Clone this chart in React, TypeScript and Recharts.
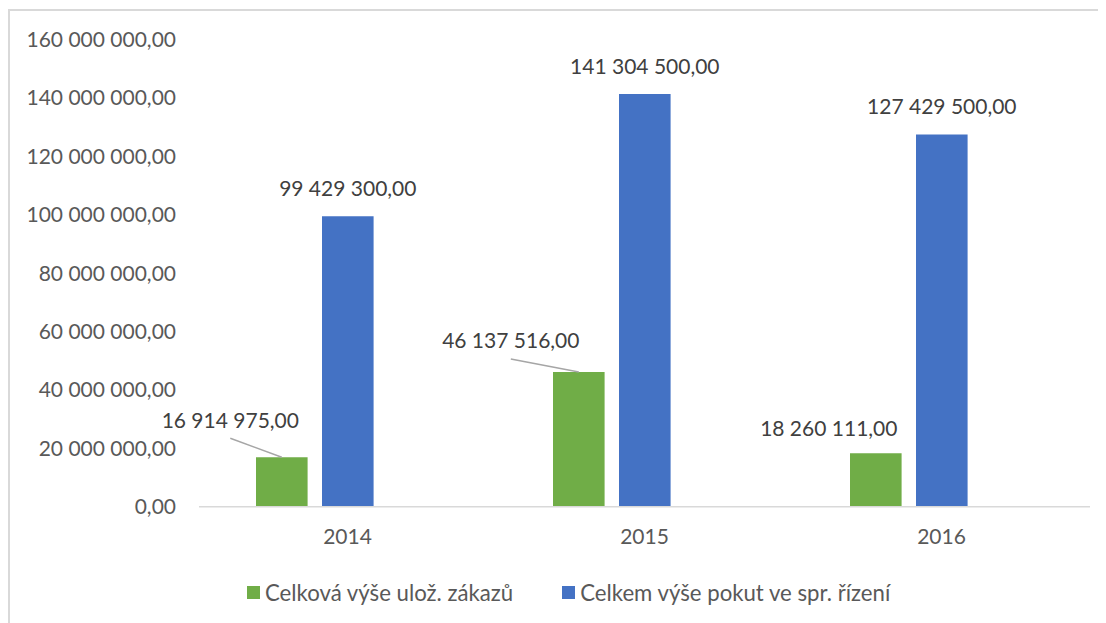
import { Bar, BarChart, LabelList, Legend, XAxis, YAxis } from 'recharts'

const years = ['2014', '2015', '2016']
const zakazy = [16914975, 46137516, 18260111]
const pokuty = [99429300, 141304500, 127429500]
// third, empty series in the source chart (keeps bars left of the tick)
const spacer = [0, 0, 0]
const yTicks = [0, 20000000, 40000000, 60000000, 80000000, 100000000, 120000000, 140000000, 160000000]

const seriesNames = ['Celková výše ulož. zákazů', 'Celkem výše pokut ve spr. řízení']

const data = years.map((year, i) => ({
  year,
  zakazy: zakazy[i],
  pokuty: pokuty[i],
  spacer: spacer[i],
}))

// manual placement of the green labels (dx, dy from bar top centre)
const greenShift = [
  { dx: -51.5, dy: -37, leader: true },
  { dx: -68, dy: -31, leader: true },
  { dx: -47, dy: -25, leader: false },
]

const FONT = 'Lato, sans-serif'
const GREEN = '#70ad47'
const BLUE = '#4472c4'

function czk(v: number) {
  const [whole, dec] = Math.abs(v).toFixed(2).split('.')
  const grouped = whole.replace(/\B(?=(\d{3})+(?!\d))/g, ' ')
  return grouped + ',' + dec
}

function BlueLabel(props: any) {
  const { x, y, width, value } = props
  return (
    <text x={x + width / 2} y={y - 20.5} textAnchor="middle" fill="#404040" fontSize={21} fontFamily={FONT}>
      {czk(value)}
    </text>
  )
}

function GreenLabel(props: any) {
  const { x, y, width, value, index } = props
  const s = greenShift[index]
  const cx = x + width / 2
  const lx = cx + s.dx
  const ly = y + s.dy
  return (
    <g>
      {s.leader && <line x1={lx} y1={ly + 18} x2={cx} y2={y} stroke="#a6a6a6" strokeWidth={1.5} />}
      <text x={lx} y={ly + 7.5} textAnchor="middle" fill="#404040" fontSize={21} fontFamily={FONT}>
        {czk(value)}
      </text>
    </g>
  )
}

function LegendBox() {
  const colors = [GREEN, BLUE]
  return (
    <div style={{ display: 'flex', alignItems: 'center', fontFamily: FONT, fontSize: 22.2, color: '#595959', whiteSpace: 'nowrap' }}>
      {seriesNames.map((name, i) => (
        <div key={name} style={{ display: 'flex', alignItems: 'center', marginRight: i === 0 ? 49 : 0 }}>
          <span style={{ width: 13, height: 13, background: colors[i], display: 'inline-block', marginRight: 5 }} />
          <span>{name}</span>
        </div>
      ))}
    </div>
  )
}

export default function App() {
  return (
    <div
      style={{
        position: 'relative',
        width: 1098,
        height: 615,
        marginTop: 1,
        borderTop: '2px solid #d9d9d9',
        borderLeft: '2px solid #d9d9d9',
        overflow: 'hidden',
        background: '#fff',
      }}
    >
      <BarChart width={1096} height={613} data={data} margin={{ top: 28.4, right: 16, bottom: 0, left: 0 }} barSize={51.6} barGap={14.4}>
        <XAxis
          dataKey="year"
          height={117.3}
          axisLine={{ stroke: '#d9d9d9', strokeWidth: 1.5 }}
          tickLine={false}
          tickSize={0}
          tickMargin={22}
          tick={{ fill: '#595959', fontSize: 21, fontFamily: FONT }}
        />
        <YAxis
          width={189}
          domain={[0, 160000000]}
          ticks={yTicks}
          interval={0}
          axisLine={false}
          tickLine={false}
          tickSize={0}
          tickMargin={23}
          tickFormatter={czk}
          tick={{ fill: '#595959', fontSize: 21, fontFamily: FONT }}
        />
        <Legend
          verticalAlign="middle"
          layout="horizontal"
          wrapperStyle={{ top: 568, left: 237, width: 'auto' }}
          content={() => <LegendBox />}
        />
        <Bar dataKey="zakazy" name={seriesNames[0]} fill={GREEN} isAnimationActive={false}>
          <LabelList dataKey="zakazy" content={GreenLabel} />
        </Bar>
        <Bar dataKey="pokuty" name={seriesNames[1]} fill={BLUE} isAnimationActive={false}>
          <LabelList dataKey="pokuty" content={BlueLabel} />
        </Bar>
        <Bar dataKey="spacer" fill="none" legendType="none" isAnimationActive={false} />
      </BarChart>
    </div>
  )
}
